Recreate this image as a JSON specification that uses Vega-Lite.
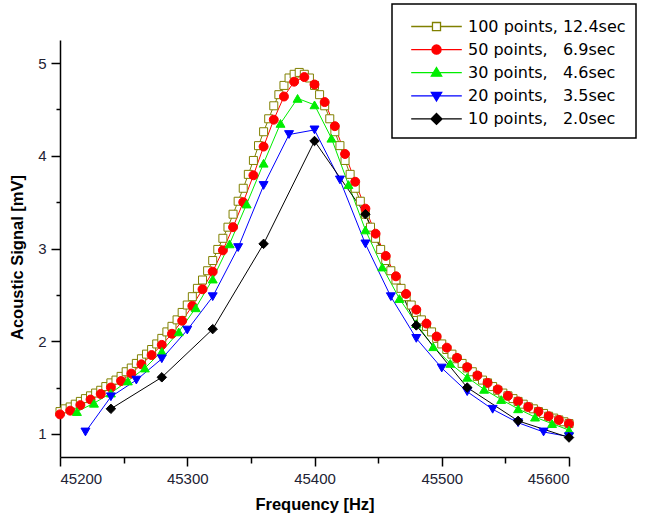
{
  "$schema": "https://vega.github.io/schema/vega-lite/v6.json",
  "width": 509,
  "height": 417,
  "autosize": "none",
  "padding": {"left": 60, "top": 40, "right": 76, "bottom": 65},
  "background": "white",
  "config": {
    "view": {"stroke": null},
    "font": "Liberation Sans",
    "legend": {"strokeWidth": 1.5}
  },
  "data": {
    "values": [
      {"s":"100","f":45200,"v":1.24},{"s":"100","f":45204,"v":1.27},{"s":"100","f":45208,"v":1.29},{"s":"100","f":45212,"v":1.32},
      {"s":"100","f":45216,"v":1.35},{"s":"100","f":45220,"v":1.38},{"s":"100","f":45224,"v":1.41},{"s":"100","f":45228,"v":1.44},
      {"s":"100","f":45232,"v":1.47},{"s":"100","f":45236,"v":1.51},{"s":"100","f":45240,"v":1.55},{"s":"100","f":45244,"v":1.58},
      {"s":"100","f":45248,"v":1.62},{"s":"100","f":45252,"v":1.67},{"s":"100","f":45256,"v":1.71},{"s":"100","f":45260,"v":1.76},
      {"s":"100","f":45264,"v":1.81},{"s":"100","f":45268,"v":1.86},{"s":"100","f":45272,"v":1.91},{"s":"100","f":45276,"v":1.97},
      {"s":"100","f":45280,"v":2.03},{"s":"100","f":45284,"v":2.10},{"s":"100","f":45288,"v":2.16},{"s":"100","f":45292,"v":2.23},
      {"s":"100","f":45296,"v":2.31},{"s":"100","f":45300,"v":2.39},{"s":"100","f":45304,"v":2.48},{"s":"100","f":45308,"v":2.57},
      {"s":"100","f":45312,"v":2.66},{"s":"100","f":45316,"v":2.76},{"s":"100","f":45320,"v":2.87},{"s":"100","f":45324,"v":2.99},
      {"s":"100","f":45328,"v":3.11},{"s":"100","f":45332,"v":3.23},{"s":"100","f":45336,"v":3.37},{"s":"100","f":45340,"v":3.51},
      {"s":"100","f":45344,"v":3.65},{"s":"100","f":45348,"v":3.80},{"s":"100","f":45352,"v":3.95},{"s":"100","f":45356,"v":4.11},
      {"s":"100","f":45360,"v":4.26},{"s":"100","f":45364,"v":4.40},{"s":"100","f":45368,"v":4.54},{"s":"100","f":45372,"v":4.66},
      {"s":"100","f":45376,"v":4.76},{"s":"100","f":45380,"v":4.84},{"s":"100","f":45384,"v":4.88},{"s":"100","f":45388,"v":4.90},
      {"s":"100","f":45392,"v":4.88},{"s":"100","f":45396,"v":4.84},{"s":"100","f":45400,"v":4.76},{"s":"100","f":45404,"v":4.66},
      {"s":"100","f":45408,"v":4.54},{"s":"100","f":45412,"v":4.40},{"s":"100","f":45416,"v":4.26},{"s":"100","f":45420,"v":4.11},
      {"s":"100","f":45424,"v":3.95},{"s":"100","f":45428,"v":3.80},{"s":"100","f":45432,"v":3.65},{"s":"100","f":45436,"v":3.51},
      {"s":"100","f":45440,"v":3.37},{"s":"100","f":45444,"v":3.23},{"s":"100","f":45448,"v":3.11},{"s":"100","f":45452,"v":2.99},
      {"s":"100","f":45456,"v":2.87},{"s":"100","f":45460,"v":2.76},{"s":"100","f":45464,"v":2.66},{"s":"100","f":45468,"v":2.57},
      {"s":"100","f":45472,"v":2.48},{"s":"100","f":45476,"v":2.39},{"s":"100","f":45480,"v":2.31},{"s":"100","f":45484,"v":2.23},
      {"s":"100","f":45488,"v":2.16},{"s":"100","f":45492,"v":2.10},{"s":"100","f":45496,"v":2.03},{"s":"100","f":45500,"v":1.97},
      {"s":"100","f":45504,"v":1.91},{"s":"100","f":45508,"v":1.86},{"s":"100","f":45512,"v":1.81},{"s":"100","f":45516,"v":1.76},
      {"s":"100","f":45520,"v":1.71},{"s":"100","f":45524,"v":1.67},{"s":"100","f":45528,"v":1.62},{"s":"100","f":45532,"v":1.58},
      {"s":"100","f":45536,"v":1.55},{"s":"100","f":45540,"v":1.51},{"s":"100","f":45544,"v":1.47},{"s":"100","f":45548,"v":1.44},
      {"s":"100","f":45552,"v":1.41},{"s":"100","f":45556,"v":1.38},{"s":"100","f":45560,"v":1.35},{"s":"100","f":45564,"v":1.32},
      {"s":"100","f":45568,"v":1.29},{"s":"100","f":45572,"v":1.27},{"s":"100","f":45576,"v":1.24},{"s":"100","f":45580,"v":1.22},
      {"s":"100","f":45584,"v":1.19},{"s":"100","f":45588,"v":1.17},{"s":"100","f":45592,"v":1.15},{"s":"100","f":45596,"v":1.13},
      {"s":"100","f":45600,"v":1.11},

      {"s":"50","f":45200,"v":1.21},{"s":"50","f":45208,"v":1.25},{"s":"50","f":45216,"v":1.31},{"s":"50","f":45224,"v":1.37},
      {"s":"50","f":45232,"v":1.43},{"s":"50","f":45240,"v":1.50},{"s":"50","f":45248,"v":1.57},{"s":"50","f":45256,"v":1.65},
      {"s":"50","f":45264,"v":1.75},{"s":"50","f":45272,"v":1.85},{"s":"50","f":45280,"v":1.96},{"s":"50","f":45288,"v":2.08},
      {"s":"50","f":45296,"v":2.22},{"s":"50","f":45304,"v":2.38},{"s":"50","f":45312,"v":2.56},{"s":"50","f":45320,"v":2.75},
      {"s":"50","f":45328,"v":2.98},{"s":"50","f":45336,"v":3.23},{"s":"50","f":45344,"v":3.50},{"s":"50","f":45352,"v":3.79},
      {"s":"50","f":45360,"v":4.10},{"s":"50","f":45368,"v":4.39},{"s":"50","f":45376,"v":4.64},{"s":"50","f":45384,"v":4.80},
      {"s":"50","f":45392,"v":4.85},{"s":"50","f":45400,"v":4.77},{"s":"50","f":45408,"v":4.58},{"s":"50","f":45416,"v":4.32},
      {"s":"50","f":45424,"v":4.02},{"s":"50","f":45432,"v":3.72},{"s":"50","f":45440,"v":3.43},{"s":"50","f":45448,"v":3.16},
      {"s":"50","f":45456,"v":2.92},{"s":"50","f":45464,"v":2.70},{"s":"50","f":45472,"v":2.51},{"s":"50","f":45480,"v":2.34},
      {"s":"50","f":45488,"v":2.19},{"s":"50","f":45496,"v":2.05},{"s":"50","f":45504,"v":1.93},{"s":"50","f":45512,"v":1.82},
      {"s":"50","f":45520,"v":1.72},{"s":"50","f":45528,"v":1.63},{"s":"50","f":45536,"v":1.55},{"s":"50","f":45544,"v":1.48},
      {"s":"50","f":45552,"v":1.41},{"s":"50","f":45560,"v":1.35},{"s":"50","f":45568,"v":1.29},{"s":"50","f":45576,"v":1.24},
      {"s":"50","f":45584,"v":1.19},{"s":"50","f":45592,"v":1.15},{"s":"50","f":45600,"v":1.11},

      {"s":"30","f":45213.3,"v":1.24},{"s":"30","f":45226.7,"v":1.33},{"s":"30","f":45240,"v":1.44},{"s":"30","f":45253.3,"v":1.57},
      {"s":"30","f":45266.7,"v":1.71},{"s":"30","f":45280,"v":1.89},{"s":"30","f":45293.3,"v":2.10},{"s":"30","f":45306.7,"v":2.36},
      {"s":"30","f":45320,"v":2.67},{"s":"30","f":45333.3,"v":3.05},{"s":"30","f":45346.7,"v":3.48},{"s":"30","f":45360,"v":3.92},
      {"s":"30","f":45373.3,"v":4.35},{"s":"30","f":45386.7,"v":4.62},{"s":"30","f":45400,"v":4.55},{"s":"30","f":45413.3,"v":4.19},
      {"s":"30","f":45426.7,"v":3.69},{"s":"30","f":45440,"v":3.20},{"s":"30","f":45453.3,"v":2.80},{"s":"30","f":45466.7,"v":2.46},
      {"s":"30","f":45480,"v":2.19},{"s":"30","f":45493.3,"v":1.94},{"s":"30","f":45506.7,"v":1.76},{"s":"30","f":45520,"v":1.61},
      {"s":"30","f":45533.3,"v":1.48},{"s":"30","f":45546.7,"v":1.37},{"s":"30","f":45560,"v":1.27},{"s":"30","f":45573.3,"v":1.18},
      {"s":"30","f":45586.7,"v":1.11},{"s":"30","f":45600,"v":1.04},

      {"s":"20","f":45220,"v":1.02},{"s":"20","f":45240,"v":1.40},{"s":"20","f":45260,"v":1.58},{"s":"20","f":45280,"v":1.81},
      {"s":"20","f":45300,"v":2.12},{"s":"20","f":45320,"v":2.48},{"s":"20","f":45340,"v":3.01},{"s":"20","f":45360,"v":3.68},
      {"s":"20","f":45380,"v":4.23},{"s":"20","f":45400,"v":4.28},{"s":"20","f":45420,"v":3.74},{"s":"20","f":45440,"v":3.05},
      {"s":"20","f":45460,"v":2.48},{"s":"20","f":45480,"v":2.03},{"s":"20","f":45500,"v":1.71},{"s":"20","f":45520,"v":1.455},
      {"s":"20","f":45540,"v":1.265},{"s":"20","f":45560,"v":1.12},{"s":"20","f":45580,"v":1.02},{"s":"20","f":45600,"v":0.97},

      {"s":"10","f":45240,"v":1.27},{"s":"10","f":45280,"v":1.61},{"s":"10","f":45320,"v":2.13},{"s":"10","f":45360,"v":3.05},
      {"s":"10","f":45400,"v":4.16},{"s":"10","f":45440,"v":3.37},{"s":"10","f":45480,"v":2.17},{"s":"10","f":45520,"v":1.50},
      {"s":"10","f":45560,"v":1.14},{"s":"10","f":45600,"v":0.96}
    ]
  },
  "encoding": {
    "x": {
      "field": "f", "type": "quantitative",
      "scale": {"domain": [45200, 45600], "nice": false, "zero": false},
      "axis": {
        "values": [45200, 45250, 45300, 45350, 45400, 45450, 45500, 45550, 45600],
        "format": "d",
        "labelExpr": "datum.value % 100 === 0 ? datum.label : ''",
        "title": "Frequency [Hz]",
        "grid": false,
        "domainColor": "black", "domainWidth": 1.5,
        "tickColor": "black", "tickWidth": 1.5,
        "tickSize": {"condition": {"test": "datum.value % 100 === 0", "value": 9}, "value": 6},
        "labelFont": "Liberation Sans", "labelFontSize": 15, "labelColor": "#222233", "labelPadding": 5,
        "titleFont": "Liberation Sans", "titleFontSize": 16.5, "titleFontWeight": "bold", "titleColor": "black", "titlePadding": 10
      }
    },
    "y": {
      "field": "v", "type": "quantitative",
      "scale": {"domain": [0.75, 5.25], "nice": false, "zero": false},
      "axis": {
        "values": [1, 1.5, 2, 2.5, 3, 3.5, 4, 4.5, 5],
        "labelExpr": "datum.value % 1 === 0 ? format(datum.value, 'd') : ''",
        "title": "Acoustic Signal [mV]",
        "titleY": 217,
        "grid": false,
        "domainColor": "black", "domainWidth": 1.5,
        "tickColor": "black", "tickWidth": 1.5,
        "tickSize": {"condition": {"test": "datum.value % 1 === 0", "value": 9}, "value": 4},
        "labelFont": "Liberation Sans", "labelFontSize": 15, "labelColor": "#222233", "labelPadding": 5,
        "titleFont": "Liberation Sans", "titleFontSize": 16.5, "titleFontWeight": "bold", "titleColor": "black", "titlePadding": 12
      }
    }
  },
  "layer": [
    {
      "mark": {"type": "line", "strokeWidth": 1},
      "encoding": {
        "color": {
          "field": "s", "type": "nominal",
          "scale": {"domain": ["10", "20", "30", "50", "100"], "range": ["#000000", "#0000ff", "#00ee00", "#ff0000", "#808000"]},
          "legend": null
        }
      }
    },
    {
      "transform": [{"filter": "datum.s === '100'"}],
      "mark": {"type": "point", "shape": "square", "filled": true, "fill": "#ffffff", "stroke": "#808000", "strokeWidth": 1, "size": 64, "opacity": 1}
    },
    {
      "transform": [{"filter": "datum.s === '50'"}],
      "mark": {"type": "point", "shape": "circle", "filled": true, "fill": "#ff0000", "stroke": "#ff0000", "strokeWidth": 1, "size": 80, "opacity": 1}
    },
    {
      "transform": [{"filter": "datum.s === '30'"}],
      "mark": {"type": "point", "shape": "triangle-up", "filled": true, "fill": "#00ee00", "stroke": "#00ee00", "strokeWidth": 1, "size": 80, "opacity": 1}
    },
    {
      "transform": [{"filter": "datum.s === '20'"}],
      "mark": {"type": "point", "shape": "triangle-down", "filled": true, "fill": "#0000ff", "stroke": "#0000ff", "strokeWidth": 1, "size": 80, "opacity": 1}
    },
    {
      "transform": [{"filter": "datum.s === '10'"}],
      "mark": {"type": "point", "shape": "diamond", "filled": true, "fill": "#000000", "stroke": "#000000", "strokeWidth": 1, "size": 90, "opacity": 1}
    },
    {
      "transform": [{"filter": "false"}],
      "mark": {"type": "point", "filled": true, "strokeWidth": 1.3, "size": 529, "opacity": 1},
      "encoding": {
        "fill": {
          "field": "s", "type": "nominal",
          "scale": {"domain": ["100", "50", "30", "20", "10"], "range": ["#ffffff", "#ff0000", "#00ee00", "#0000ff", "#000000"]}
        },
        "stroke": {
          "field": "s", "type": "nominal",
          "scale": {"domain": ["100", "50", "30", "20", "10"], "range": ["#808000", "#ff0000", "#00ee00", "#0000ff", "#000000"]}
        },
        "shape": {
          "field": "s", "type": "nominal",
          "scale": {
            "domain": ["100", "50", "30", "20", "10"],
            "range": [
              "M-2.2,0H-0.35M0.35,0H2.2M-0.35,-0.35H0.35V0.35H-0.35Z",
              "M-2.2,0H2.2M0.4,0A0.4,0.4,0,1,1,-0.4,0A0.4,0.4,0,1,1,0.4,0Z",
              "M-2.2,0H2.2M0,-0.45L0.45,0.3L-0.45,0.3Z",
              "M-2.2,0H2.2M0,0.45L0.45,-0.3L-0.45,-0.3Z",
              "M-2.2,0H2.2M0,-0.48L0.48,0L0,0.48L-0.48,0Z"
            ]
          },
          "legend": {
            "title": null,
            "orient": "none",
            "legendX": 332,
            "legendY": -36,
            "direction": "vertical",
            "padding": 10,
            "symbolOffset": 22,
            "labelOffset": 19,
            "rowPadding": 2.1,
            "symbolSize": 529,
            "symbolStrokeWidth": 1.3,
            "labelFont": "DejaVu Sans",
            "labelFontSize": 16,
            "labelColor": "black",
            "labelLimit": 300,
            "strokeColor": "black",
            "fillColor": "white",
            "cornerRadius": 0,
            "labelExpr": "datum.value === '100' ? '100 points, 12.4sec' : datum.value === '50' ? '50 points,\u00a0\u00a0\u00a06.9sec' : datum.value === '30' ? '30 points,\u00a0\u00a0\u00a04.6sec' : datum.value === '20' ? '20 points,\u00a0\u00a0\u00a03.5sec' : '10 points,\u00a0\u00a0\u00a02.0sec'"
          }
        }
      }
    }
  ]
}
